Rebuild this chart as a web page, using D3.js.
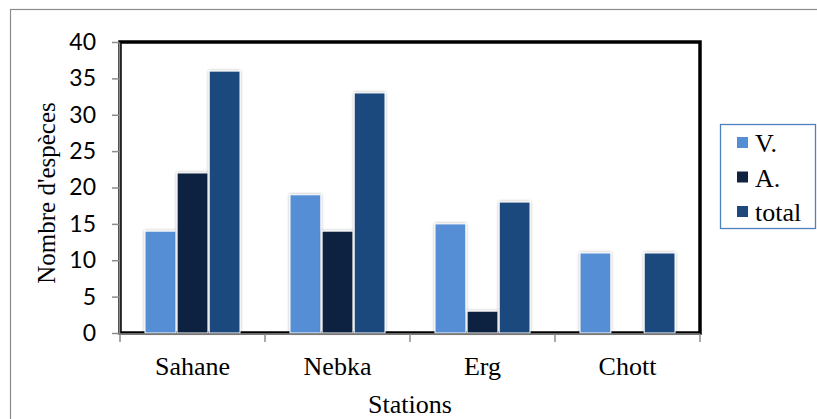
<!DOCTYPE html>
<html>
<head>
<meta charset="utf-8">
<script src="https://cdn.jsdelivr.net/npm/d3@7"></script>
<style>
  html, body { margin: 0; padding: 0; background: #fff; }
  svg { display: block; }
</style>
</head>
<body>
<svg id="chart" width="817" height="419"></svg>
<script>
const categories = ["Sahane", "Nebka", "Erg", "Chott"];
const seriesNames = ["V.", "A.", "total"];
const valuesV = [14, 19, 15, 11];
const valuesA = [22, 14, 3, 0];
const valuesTotal = [36, 33, 18, 11];
const yTicks = [0, 5, 10, 15, 20, 25, 30, 35, 40];
const colors = ["#558ed5", "#10243f", "#1f497d"];

const seriesValues = [valuesV, valuesA, valuesTotal];

const svg = d3.select("#chart");
const L = 120, R = 700, T = 42, B = 333;

// outer chart border
svg.append("rect").attr("x", 10.5).attr("y", 9.5).attr("width", 900).attr("height", 600)
  .attr("fill", "#fff").attr("stroke", "#8c8c8c").attr("stroke-width", 1.2);

const defs = svg.append("defs");
const f = defs.append("filter").attr("id", "sh").attr("x", "-30%").attr("y", "-10%").attr("width", "160%").attr("height", "120%");
f.append("feDropShadow").attr("dx", 0).attr("dy", 0).attr("stdDeviation", 1.6)
  .attr("flood-color", "#000").attr("flood-opacity", 0.35);

const x = d3.scaleBand().domain(categories).range([L, R]).padding(0);
const xi = d3.scaleBand().domain(seriesNames).range([25, x.bandwidth() - 25]).paddingInner(0.04);
const y = d3.scaleLinear().domain([0, 40]).range([B, T]);

// plot area border
svg.append("rect").attr("x", L).attr("y", T).attr("width", R - L).attr("height", B - T)
  .attr("fill", "#fff").attr("stroke", "#000").attr("stroke-width", 3.5);

// bars
const data = [];
categories.forEach((c, i) => seriesNames.forEach((s, j) => {
  data.push({ c, s, v: seriesValues[j][i], color: colors[j] });
}));
svg.append("g").selectAll("rect").data(data.filter(d => d.v > 0)).join("rect")
  .attr("x", d => x(d.c) + xi(d.s))
  .attr("y", d => y(d.v))
  .attr("width", xi.bandwidth())
  .attr("height", d => y(0) - y(d.v))
  .attr("fill", d => d.color)
  .attr("stroke", "#fff").attr("stroke-width", 1)
  .attr("filter", "url(#sh)");

// y axis
const yAxis = svg.append("g").attr("transform", `translate(${L - 1},0)`)
  .call(d3.axisLeft(y).tickValues(yTicks).tickSize(7).tickPadding(16).tickSizeOuter(0));
yAxis.select(".domain").attr("stroke", "#8c8c8c").attr("stroke-width", 1.5);
yAxis.selectAll(".tick line").attr("stroke", "#8c8c8c").attr("stroke-width", 1.5);
yAxis.selectAll(".tick text").attr("font-family", "Lato, 'Open Sans', sans-serif")
  .attr("font-size", 23).attr("fill", "#000");

// x axis
const xAxis = svg.append("g").attr("transform", `translate(0,${B + 1})`);
xAxis.append("line").attr("x1", L - 2).attr("x2", R).attr("y1", 0).attr("y2", 0)
  .attr("stroke", "#8c8c8c").attr("stroke-width", 1.5);
const bounds = categories.map(c => x(c)).concat([x(categories[categories.length - 1]) + x.bandwidth()]);
xAxis.selectAll("line.tk").data(bounds).join("line").attr("class", "tk")
  .attr("x1", d => d).attr("x2", d => d).attr("y1", 0).attr("y2", 8)
  .attr("stroke", "#8c8c8c").attr("stroke-width", 1.5);
svg.append("g").selectAll("text").data(categories).join("text")
  .attr("x", d => x(d) + x.bandwidth() / 2).attr("y", 375)
  .attr("text-anchor", "middle").attr("font-family", "'Liberation Serif', 'Times New Roman', serif")
  .attr("font-size", 26).attr("fill", "#000").text(d => d);

// axis titles
svg.append("text").attr("x", 410).attr("y", 413).attr("text-anchor", "middle")
  .attr("font-family", "'Liberation Serif', 'Times New Roman', serif").attr("font-size", 26)
  .text("Stations");
svg.append("text").attr("transform", "translate(55,193) rotate(-90)").attr("text-anchor", "middle")
  .attr("font-family", "'Liberation Serif', 'Times New Roman', serif").attr("font-size", 25)
  .text("Nombre d'espèces");

// legend
const lg = svg.append("g");
lg.append("rect").attr("x", 720.5).attr("y", 124.5).attr("width", 95).attr("height", 104)
  .attr("fill", "#fff").attr("stroke", "#4f81bd").attr("stroke-width", 1.3);
const items = lg.selectAll("g.it").data(seriesNames).join("g").attr("class", "it")
  .attr("transform", (d, i) => `translate(737,${137 + i * 34.5})`);
items.append("rect").attr("width", 11).attr("height", 11).attr("fill", (d, i) => colors[i]);
items.append("text").attr("x", 18).attr("y", 15).attr("font-family", "'Liberation Serif', 'Times New Roman', serif")
  .attr("font-size", 26).attr("fill", "#000").text(d => d);
</script>
</body>
</html>
